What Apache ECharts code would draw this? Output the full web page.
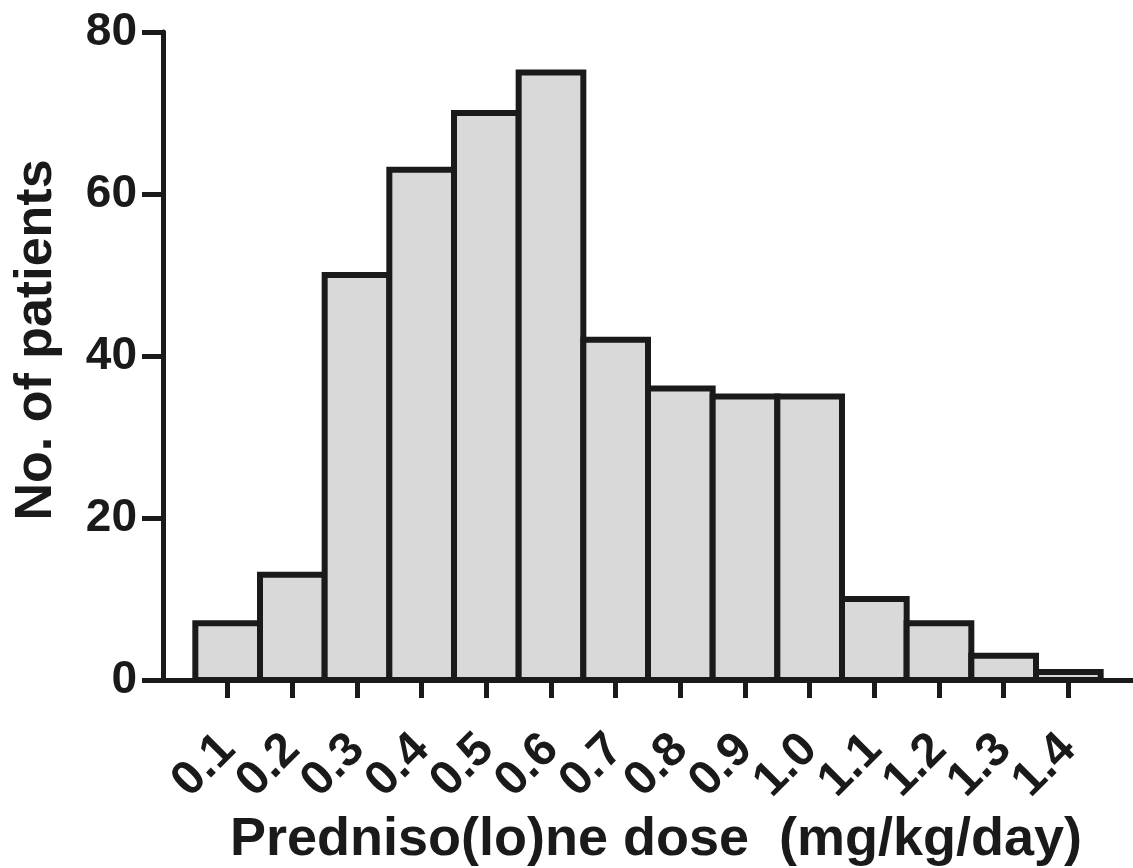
<!DOCTYPE html>
<html>
<head>
<meta charset="utf-8">
<script src="https://cdn.jsdelivr.net/npm/echarts@6/dist/echarts.min.js"></script>
<style>
  html, body { margin: 0; padding: 0; background: #fff; }
  #chart { width: 1133px; height: 868px; }
</style>
</head>
<body>
<div id="chart"></div>
<script>
// dose bins (mg/kg/day) and patient counts
var doses = ["0.1", "0.2", "0.3", "0.4", "0.5", "0.6", "0.7", "0.8", "0.9", "1.0", "1.1", "1.2", "1.3", "1.4"];
var patients = [7, 13, 50, 63, 70, 75, 42, 36, 35, 35, 10, 7, 3, 1];
var yTicks = [0, 20, 40, 60, 80];

var ink = "#1a1a1a";
var font = "'Liberation Sans', Arial, sans-serif";

// pad with an empty slot on each side so the axis runs from 0.0 to 1.5
var axisData = [""].concat(doses, [""]);
var barData = patients.map(function(v, k) { return [k + 1, v]; });
var inner = function(i) { return i > 0 && i < axisData.length - 1; };

// the big rotated labels touch each other, so odd and even ones sit on two
// stacked axes - otherwise echarts drops the 2nd / 2nd-last label as overlapping
var tickLabel = function(odd) {
  return {
    interval: function(i) { return inner(i) && (i % 2 === 1) === odd; },
    showMinLabel: true,
    showMaxLabel: true,
    rotate: 45,
    margin: 62,
    color: ink,
    fontSize: 48,
    fontWeight: "bold",
    fontFamily: font
  };
};

var chart = echarts.init(document.getElementById("chart"));
chart.setOption({
  animation: false,
  grid: { left: 163, right: 0, top: 32, bottom: 188 },
  xAxis: [{
    type: "category",
    data: axisData,
    boundaryGap: false,
    axisLine: { lineStyle: { color: ink, width: 5 } },
    axisTick: { show: true, length: 18, interval: inner, lineStyle: { color: ink, width: 5 } },
    axisLabel: tickLabel(true),
    splitLine: { show: false }
  }, {
    type: "category",
    data: axisData,
    position: "bottom",
    boundaryGap: false,
    axisLine: { show: false },
    axisTick: { show: false },
    axisLabel: tickLabel(false),
    splitLine: { show: false }
  }],
  yAxis: {
    type: "value",
    min: yTicks[0],
    max: yTicks[yTicks.length - 1],
    interval: 20,
    axisLine: { show: true, lineStyle: { color: ink, width: 5 } },
    axisTick: { show: true, length: 21, lineStyle: { color: ink, width: 5 } },
    axisLabel: {
      margin: 26,
      color: ink,
      fontSize: 46,
      fontWeight: "bold",
      fontFamily: font
    },
    splitLine: { show: false }
  },
  graphic: [{
    type: "text",
    x: 37,
    y: 340,
    rotation: Math.PI / 2,
    style: {
      text: "No. of patients",
      fill: ink,
      font: "bold 52px " + font,
      align: "center",
      verticalAlign: "middle"
    }
  }, {
    type: "text",
    x: 656,
    y: 840,
    style: {
      text: "Predniso(lo)ne dose  (mg/kg/day)",
      fill: ink,
      font: "bold 54px " + font,
      align: "center",
      verticalAlign: "middle"
    }
  }],
  series: [{
    type: "custom",
    data: barData,
    encode: { x: 0, y: 1 },
    renderItem: function(params, api) {
      var i = api.value(0);
      var top = api.coord([i, api.value(1)]);
      var base = api.coord([i, 0]);
      var half = (api.coord([i + 1, 0])[0] - base[0]) / 2;
      return {
        type: "rect",
        shape: { x: base[0] - half, y: top[1], width: half * 2, height: base[1] - top[1] },
        style: { fill: "#d9d9d9", stroke: ink, lineWidth: 6 }
      };
    }
  }]
});
</script>
</body>
</html>
